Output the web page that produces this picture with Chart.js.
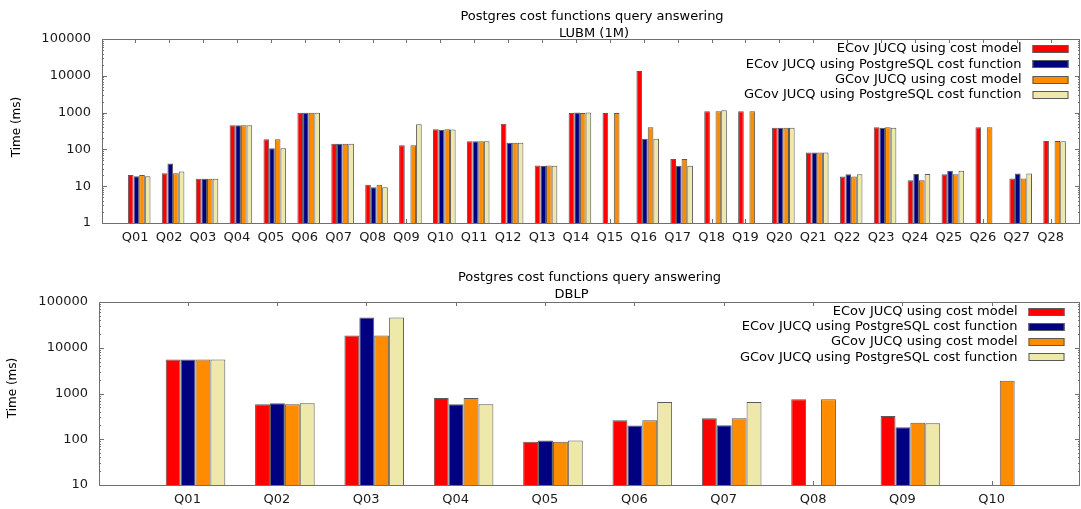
<!DOCTYPE html>
<html lang="en">
<head>
<meta charset="UTF-8">
<title>Postgres cost functions query answering</title>
<script src="https://cdn.jsdelivr.net/npm/chart.js"></script>
<style>
  html, body { margin: 0; padding: 0; background: #fff; }
  .box { position: relative; width: 1081px; }
  #topBox { height: 255px; }
  #bottomBox { height: 254px; }
</style>
</head>
<body>
<div class="box" id="topBox"><canvas id="lubmChart"></canvas></div>
<div class="box" id="bottomBox"><canvas id="dblpChart"></canvas></div>
<script>
// series shared by both charts
const seriesNames = [
  'ECov JUCQ using cost model',
  'ECov JUCQ using PostgreSQL cost function',
  'GCov JUCQ using cost model',
  'GCov JUCQ using PostgreSQL cost function'
];
const seriesColors = ['#ff0000', '#000080', '#ff8c00', '#eee8aa'];

// LUBM (1M), time in ms, null = no bar
const lubmQueries = ['Q01','Q02','Q03','Q04','Q05','Q06','Q07','Q08','Q09','Q10','Q11','Q12','Q13','Q14',
                     'Q15','Q16','Q17','Q18','Q19','Q20','Q21','Q22','Q23','Q24','Q25','Q26','Q27','Q28'];
const lubmEcovCost  = [20, 22.6, 16, 453, 188, 990, 143, 10.9, 129, 352, 166, 501, 36.7, 970,
                       970, 13400, 54.6, 1090, 1090, 390, 83, 18.4, 400, 14.6, 21, 400, 16.2, 169];
const lubmEcovPg    = [18.7, 41.7, 16, 453, 107, 990, 143, 9.4, null, 337, 166, 152, 35.2, 1000,
                       null, 195, 35.9, null, null, 390, 83, 21, 390, 21.3, 26.2, null, 22.2, null];
const lubmGcovCost  = [20, 22.6, 16, 453, 188, 990, 143, 10.9, 129, 352, 166, 152, 36.7, 970,
                       970, 400, 54.6, 1090, 1090, 390, 83, 18.4, 400, 14.6, 21, 400, 16.2, 169];
const lubmGcovPg    = [18.5, 25, 16, 453, 107, 990, 143, 9.3, 483, 345, 166, 152, 36, 1000,
                       null, 195, 36, 1160, null, 390, 83, 21, 390, 21.3, 26.2, null, 22.2, 166];

// DBLP, time in ms
const dblpQueries = ['Q01','Q02','Q03','Q04','Q05','Q06','Q07','Q08','Q09','Q10'];
const dblpEcovCost  = [5560, 582, 18500, 798, 88, 261, 288, 748, 324, null];
const dblpEcovPg    = [5560, 612, 45700, 582, 94, 199, 203, null, 184, null];
const dblpGcovCost  = [5560, 582, 18500, 798, 88, 261, 288, 748, 228, 1900];
const dblpGcovPg    = [5560, 612, 45700, 582, 94, 653, 653, null, 224, null];

const FONT = 'DejaVu Sans';

// frame, inward ticks, titles and legend the way gnuplot draws them
const decorPlugin = {
  id: 'decor',
  beforeDatasetsDraw(chart, args, opts) {
    const { ctx, chartArea: a, scales: { x, y } } = chart;
    ctx.save();
    ctx.strokeStyle = '#707070';
    ctx.lineWidth = 1;
    ctx.beginPath();
    x.ticks.forEach(t => {
      const px = Math.round(x.getPixelForValue(t.value) + opts.labelShift) + 0.5;
      ctx.moveTo(px, a.top); ctx.lineTo(px, a.top + 4);
      ctx.moveTo(px, a.bottom); ctx.lineTo(px, a.bottom - 4);
    });
    for (let p = y.min; p <= y.max; p *= 10) {
      for (let k = 1; k <= 9; k++) {
        const v = p * k;
        if (v > y.max) break;
        const py = Math.round(y.getPixelForValue(v)) + 0.5;
        const len = k === 1 ? 5 : 2;
        ctx.moveTo(a.left, py); ctx.lineTo(a.left + len, py);
        ctx.moveTo(a.right, py); ctx.lineTo(a.right - len, py);
      }
    }
    ctx.stroke();
    ctx.restore();
  },
  afterDatasetsDraw(chart) {
    const { ctx, chartArea: a } = chart;
    ctx.save();
    ctx.strokeStyle = '#707070';
    ctx.lineWidth = 1;
    ctx.strokeRect(Math.round(a.left) + 0.5, Math.round(a.top) + 0.5,
                   Math.round(a.right - a.left) - 1, Math.round(a.bottom - a.top));
    ctx.restore();
  },
  afterDraw(chart, args, opts) {
    const { ctx, chartArea: a } = chart;
    const mid = (a.left + a.right) / 2;
    ctx.save();
    ctx.fillStyle = '#000';
    ctx.font = '13px "' + FONT + '"';
    ctx.textAlign = 'center';
    ctx.textBaseline = 'middle';
    opts.title.forEach((line, i) => ctx.fillText(line, mid + opts.titleDx[i], opts.titleY[i]));

    // y axis title
    ctx.save();
    ctx.translate(opts.yTitle[0], opts.yTitle[1]);
    ctx.rotate(-Math.PI / 2);
    ctx.font = '12px "' + FONT + '"';
    ctx.fillText('Time (ms)', 0, 0);
    ctx.restore();

    // legend: text right-aligned, swatch on the right
    ctx.textAlign = 'right';
    ctx.font = '13px "' + FONT + '"';
    chart.data.datasets.forEach((ds, i) => {
      const cy = a.top + opts.legendTop + i * 15.3;
      const sx = a.right - opts.legendRight - 36;
      ctx.fillStyle = ds.backgroundColor;
      ctx.fillRect(sx, Math.round(cy) - 4, 36, 8);
      ctx.strokeStyle = '#5a5a5a';
      ctx.strokeRect(sx + 0.5, Math.round(cy) - 3.5, 35, 7);
      ctx.fillStyle = '#000';
      ctx.fillText(ds.label, sx - 11, cy);
    });
    ctx.restore();
  }
};

function buildChart(canvasId, queries, series, cfg) {
  const datasets = series.map((vals, s) => ({
    label: seriesNames[s],
    data: vals.map((v, i) => ({ x: i, y: v })),
    backgroundColor: seriesColors[s],
    borderColor: '#5a5a5a',
    borderWidth: 1,
    categoryPercentage: 0.667,
    barPercentage: 1.0
  }));

  return new Chart(document.getElementById(canvasId), {
    type: 'bar',
    data: { datasets: datasets },
    options: {
      responsive: true,
      maintainAspectRatio: false,
      animation: false,
      layout: { padding: { top: cfg.padTop, right: 1, left: 0, bottom: 0 } },
      plugins: {
        legend: { display: false },
        title: { display: false },
        tooltip: { enabled: false },
        decor: cfg.decor
      },
      scales: {
        x: {
          type: 'linear',
          offset: false,
          min: cfg.xMin,
          max: cfg.xMax,
          grid: { display: false, drawTicks: false, offset: false },
          border: { display: false },
          afterBuildTicks: scale => { scale.ticks = queries.map((q, i) => ({ value: i })); },
          afterFit: scale => { scale.height = cfg.xAxisHeight; },
          ticks: {
            autoSkip: false,
            maxRotation: 0,
            padding: 7,
            labelOffset: cfg.decor.labelShift,
            color: '#1a1a1a',
            font: { family: FONT, size: 13 },
            callback: v => queries[v]
          }
        },
        y: {
          type: 'logarithmic',
          min: cfg.yMin,
          max: 100000,
          grid: { display: false, drawTicks: false },
          border: { display: false },
          afterBuildTicks: scale => {
            const t = [];
            for (let v = cfg.yMin; v <= 100000; v *= 10) t.push({ value: v });
            scale.ticks = t;
          },
          afterFit: scale => { scale.width = cfg.yAxisWidth; },
          ticks: {
            padding: 11,
            color: '#1a1a1a',
            font: { family: FONT, size: 13 },
            callback: v => String(v)
          }
        }
      }
    },
    plugins: [decorPlugin]
  });
}

buildChart('lubmChart', lubmQueries,
  [lubmEcovCost, lubmEcovPg, lubmGcovCost, lubmGcovPg],
  {
    padTop: 39, xAxisHeight: 32, yAxisWidth: 102,
    xMin: -1.097, xMax: 27.75, yMin: 1,
    decor: {
      title: ['Postgres cost functions query answering', 'LUBM (1M)'],
      titleDx: [1, 3], titleY: [16.5, 34],
      yTitle: [17, 127],
      legendTop: 10, legendRight: 11.5,
      labelShift: -4
    }
  });

buildChart('dblpChart', dblpQueries,
  [dblpEcovCost, dblpEcovPg, dblpGcovCost, dblpGcovPg],
  {
    padTop: 47, xAxisHeight: 24, yAxisWidth: 99,
    xMin: -1.08, xMax: 9.898, yMin: 10,
    decor: {
      title: ['Postgres cost functions query answering', 'DBLP'],
      titleDx: [0, -18], titleY: [22.5, 40],
      yTitle: [13, 133],
      legendTop: 9.5, legendRight: 15.5,
      labelShift: -8
    }
  });
</script>
</body>
</html>
